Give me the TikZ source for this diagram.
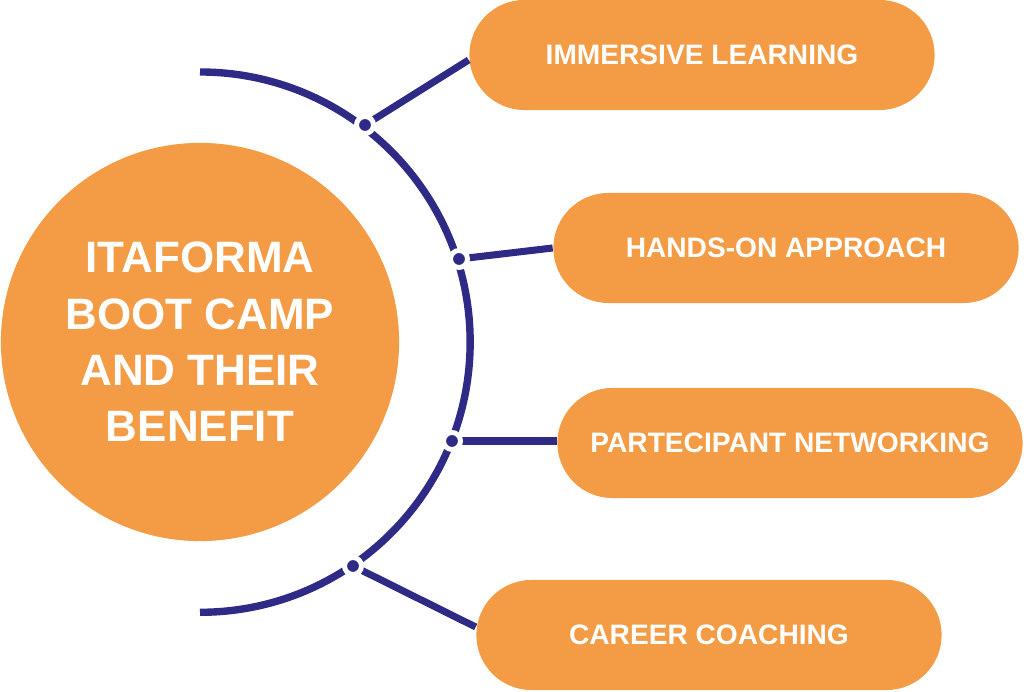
\documentclass[tikz,border=0pt]{standalone}
\usepackage{fontspec}
\setmainfont{Liberation Sans}
\usetikzlibrary{positioning}
\definecolor{camporange}{HTML}{F39C45}
\definecolor{campblue}{HTML}{2E2A86}
\begin{document}
\begin{tikzpicture}[x=0.01cm, y=-0.01cm]
  % styles
  \tikzstyle{pill}=[rectangle, rounded corners=0.55cm, fill=camporange, minimum width=4.65cm, minimum height=1.1cm, text=white, font=\bfseries\fontsize{8}{10}\selectfont];
  \tikzstyle{hub}=[circle, fill=camporange, minimum size=3.98cm, text=white, align=center, font=\bfseries\fontsize{12.5}{16}\selectfont];
  \tikzstyle{dot}=[circle, fill=campblue, draw=white, line width=1.4pt, minimum size=0.17cm, inner sep=0pt];
  \tikzstyle{link}=[draw=campblue, line width=2pt];
  \useasboundingbox (0,0) rectangle (1024,692);

  %==================== HUB ====================
  \node[hub] (hub) at (200,342) {ITAFORMA\\BOOT CAMP\\AND THEIR\\BENEFIT};
  \draw[campblue, line width=2.1pt] (200,72) arc[start angle=90, end angle=-90, radius=2.7cm];

  %==================== BENEFITS ====================
  \node[pill] (p1) at (702,55) {IMMERSIVE LEARNING};
  \node[pill] (p2) at (786,248) {HANDS-ON APPROACH};
  \node[pill] (p3) at (790,443) {PARTECIPANT NETWORKING};
  \node[pill] (p4) at (709,635) {CAREER COACHING};

  \coordinate (d1) at (365,125);
  \coordinate (d2) at (459,259);
  \coordinate (d3) at (452,441);
  \coordinate (d4) at (353,566);
  % links
  \draw[link] (d1) -- (p1.west |- 0,60);
  \draw[link] (d2) -- (p2.west |- 0,248);
  \draw[link] (d3) -- (p3.west |- 0,441);
  \draw[link] (d4) -- (p4.west |- 0,627);
  % dots
  \foreach \d in {d1,d2,d3,d4}
    \node[dot] at (\d) {};
\end{tikzpicture}
\end{document}
